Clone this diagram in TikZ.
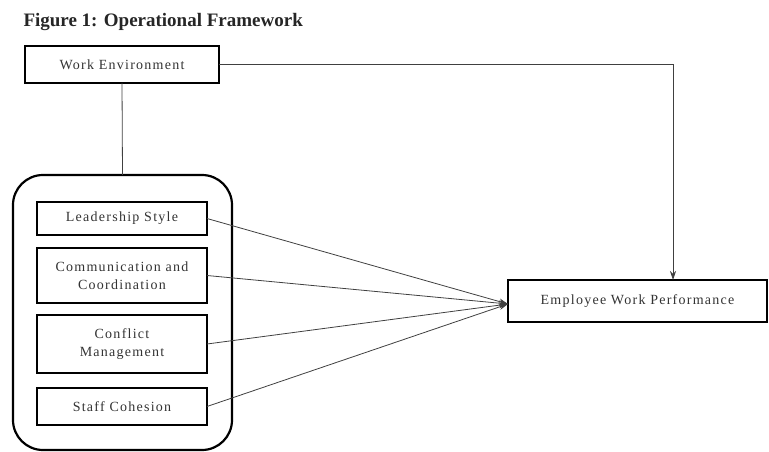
\documentclass[tikz,border=0pt]{standalone}
\usepackage{fontspec}
\setmainfont{Liberation Serif}
\newfontfamily\boxfont[LetterSpace=9]{Liberation Serif}
\usetikzlibrary{arrows.meta}
\begin{document}
\begin{tikzpicture}[x=1pt,y=-1pt,
  box/.style={draw=black,line width=2.4pt,inner sep=0pt,outer sep=0pt,align=center,
    font=\boxfont\fontsize{14}{18}\selectfont,text=black!80},
  conn/.style={draw=black!75,line width=0.8pt},
  arr/.style={conn,-{Stealth[length=9pt,width=6pt]}}]
\useasboundingbox (0,0) rectangle (769,452);
\node[anchor=west,font=\fontsize{19}{22}\selectfont\bfseries,text=black!85] (title) at (20,22) {Figure 1: Operational Framework};
\node[box,minimum width=194pt,minimum height=37pt] (we) at (122,64.5) {Work Environment};
\node[draw=black,line width=2.2pt,rounded corners=30pt,minimum width=219pt,minimum height=275pt,inner sep=0pt,outer sep=0pt] (grp) at (122.5,312.5) {};
\node[box,minimum width=170pt,minimum height=33pt] (ls) at (122,218.5) {Leadership Style};
\node[box,minimum width=170pt,minimum height=55pt] (cc) at (122,275.5) {Communication and\\Coordination};
\node[box,minimum width=170pt,minimum height=58pt] (cm) at (122,344) {Conflict\\Management};
\node[box,minimum width=170pt,minimum height=37pt] (sc) at (122,406.5) {Staff Cohesion};
\node[box,minimum width=259pt,minimum height=42pt] (ewp) at (637.5,301) {Employee Work Performance};
\draw[conn] (we.south) -- (grp.north);
\draw[arr] (we.east) -| ([xshift=35.5pt]ewp.north);
\draw[arr] (ls.east) -- ([yshift=-3pt]ewp.west);
\draw[arr] (cc.east) -- ([yshift=-3pt]ewp.west);
\draw[arr] (cm.east) -- ([yshift=-3pt]ewp.west);
\draw[arr] (sc.east) -- ([yshift=-3pt]ewp.west);
\end{tikzpicture}
\end{document}
